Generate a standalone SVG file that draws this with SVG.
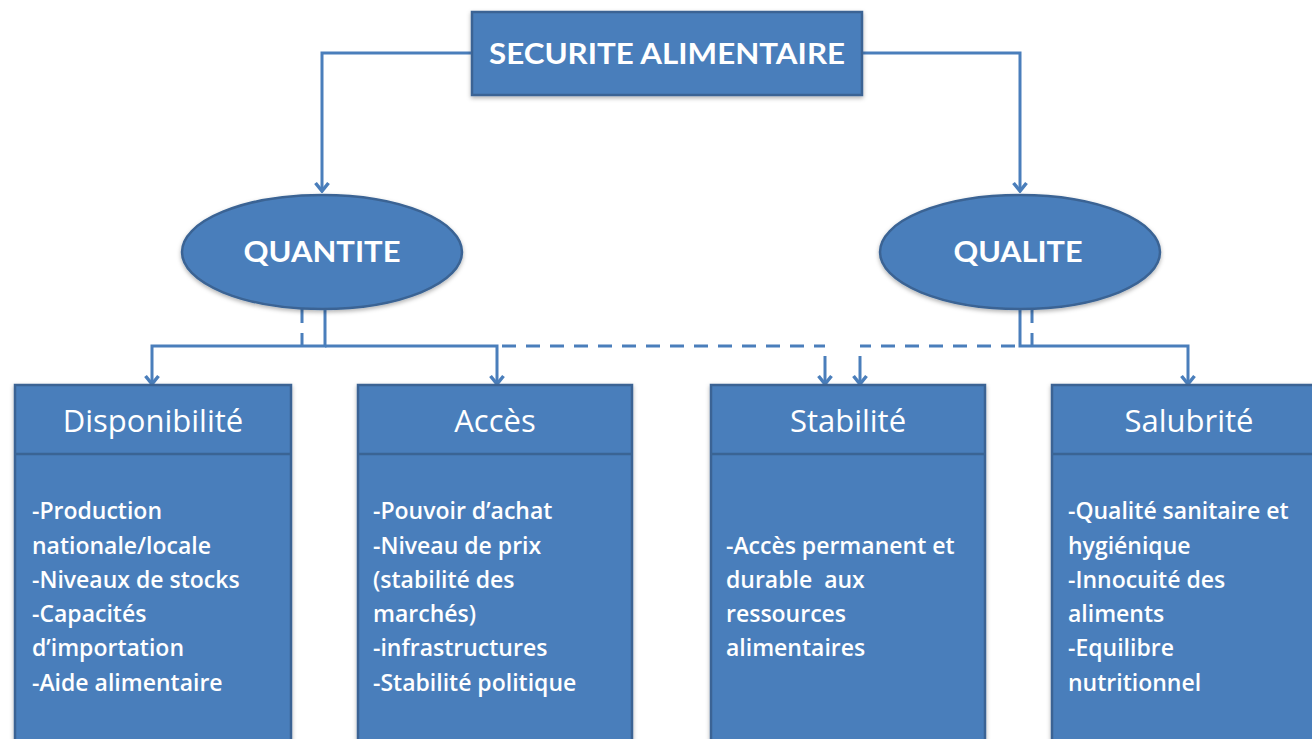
<svg xmlns="http://www.w3.org/2000/svg" width="1312" height="739" viewBox="0 0 1312 739">
<style>
.box{fill:#4a7ebb;stroke:#3a6494;stroke-width:2.5}
.hdr{fill:none;stroke:#3a6494;stroke-width:2.5}
.ln{fill:none;stroke:#4a7ebb;stroke-width:3}
.dash{fill:none;stroke:#4a7ebb;stroke-width:3;stroke-dasharray:14 10}
.big{font-family:Lato,"Open Sans",sans-serif;font-weight:bold;fill:#fff;font-size:29px;text-anchor:middle}
.ttl{font-family:"Open Sans",Lato,sans-serif;fill:#fff;font-size:31px;text-anchor:middle}
.body{font-family:"Open Sans",Lato,sans-serif;font-weight:600;fill:#fff;font-size:23px}
</style>
<defs>
<marker id="av" markerWidth="16" markerHeight="16" refX="8" refY="14" markerUnits="userSpaceOnUse" viewBox="0 0 16 16">
<path d="M1.5,6 L8,14 L14.5,6" fill="none" stroke="#4a7ebb" stroke-width="3.5"/>
</marker>
<filter id="sh" x="-5%" y="-5%" width="110%" height="115%">
<feDropShadow dx="0" dy="2" stdDeviation="2" flood-color="#000" flood-opacity="0.3"/>
</filter>
</defs>
<g id="connectors">
<path class="ln" d="M472,53 H322 V191" marker-end="url(#av)"/>
<path class="ln" d="M862,53 H1020 V191" marker-end="url(#av)"/>
<path class="ln" d="M325,309 V346 H152 V384" marker-end="url(#av)"/>
<path class="ln" d="M325,346 H497 V384" marker-end="url(#av)"/>
<path class="ln" d="M1020,309 V346 H1188 V384" marker-end="url(#av)"/>
<path class="dash" d="M302,309 V346" stroke-dasharray="8 6"/>
<path class="dash" d="M502,346 H825"/>
<path class="ln" d="M825,356 V384" marker-end="url(#av)"/>
<path class="dash" d="M1032,309 V346" stroke-dasharray="8 6"/>
<path class="dash" d="M1015,346 H860"/>
<path class="ln" d="M860,356 V384" marker-end="url(#av)"/>
</g>
<g id="securite">
<rect class="box" x="472" y="12" width="390" height="83" filter="url(#sh)"/>
<text class="big" x="667" y="64" textLength="356" lengthAdjust="spacingAndGlyphs">SECURITE ALIMENTAIRE</text>
</g>
<g id="quantite">
<ellipse class="box" cx="322" cy="252" rx="140" ry="57" filter="url(#sh)"/>
<text class="big" x="322" y="262" textLength="157" lengthAdjust="spacingAndGlyphs">QUANTITE</text>
</g>
<g id="qualite">
<ellipse class="box" cx="1020" cy="252" rx="140" ry="57" filter="url(#sh)"/>
<text class="big" x="1018" y="262" textLength="129" lengthAdjust="spacingAndGlyphs">QUALITE</text>
</g>
<g id="disponibilite">
<rect class="box" x="15" y="385" width="276" height="360" filter="url(#sh)"/>
<path class="hdr" d="M15,454 H291"/>
<text class="ttl" x="153" y="432">Disponibilité</text>
<text class="body" x="32" y="519">-Production</text>
<text class="body" x="32" y="554">nationale/locale</text>
<text class="body" x="32" y="588">-Niveaux de stocks</text>
<text class="body" x="32" y="622">-Capacités</text>
<text class="body" x="32" y="656">d’importation</text>
<text class="body" x="32" y="691">-Aide alimentaire</text>
</g>
<g id="acces">
<rect class="box" x="358" y="385" width="274" height="360" filter="url(#sh)"/>
<path class="hdr" d="M358,454 H632"/>
<text class="ttl" x="495" y="432">Accès</text>
<text class="body" x="373" y="519">-Pouvoir d’achat</text>
<text class="body" x="373" y="554">-Niveau de prix</text>
<text class="body" x="373" y="588">(stabilité des</text>
<text class="body" x="373" y="622">marchés)</text>
<text class="body" x="373" y="656">-infrastructures</text>
<text class="body" x="373" y="691">-Stabilité politique</text>
</g>
<g id="stabilite">
<rect class="box" x="711" y="385" width="274" height="360" filter="url(#sh)"/>
<path class="hdr" d="M711,454 H985"/>
<text class="ttl" x="848" y="432">Stabilité</text>
<text class="body" x="726" y="554">-Accès permanent et</text>
<text class="body" x="726" y="588" xml:space="preserve">durable  aux</text>
<text class="body" x="726" y="622">ressources</text>
<text class="body" x="726" y="656">alimentaires</text>
</g>
<g id="salubrite">
<rect class="box" x="1052" y="385" width="276" height="360" filter="url(#sh)"/>
<path class="hdr" d="M1052,454 H1328"/>
<text class="ttl" x="1189" y="432">Salubrité</text>
<text class="body" x="1068" y="519">-Qualité sanitaire et</text>
<text class="body" x="1068" y="554">hygiénique</text>
<text class="body" x="1068" y="588">-Innocuité des</text>
<text class="body" x="1068" y="622">aliments</text>
<text class="body" x="1068" y="656">-Equilibre</text>
<text class="body" x="1068" y="691">nutritionnel</text>
</g>
</svg>
